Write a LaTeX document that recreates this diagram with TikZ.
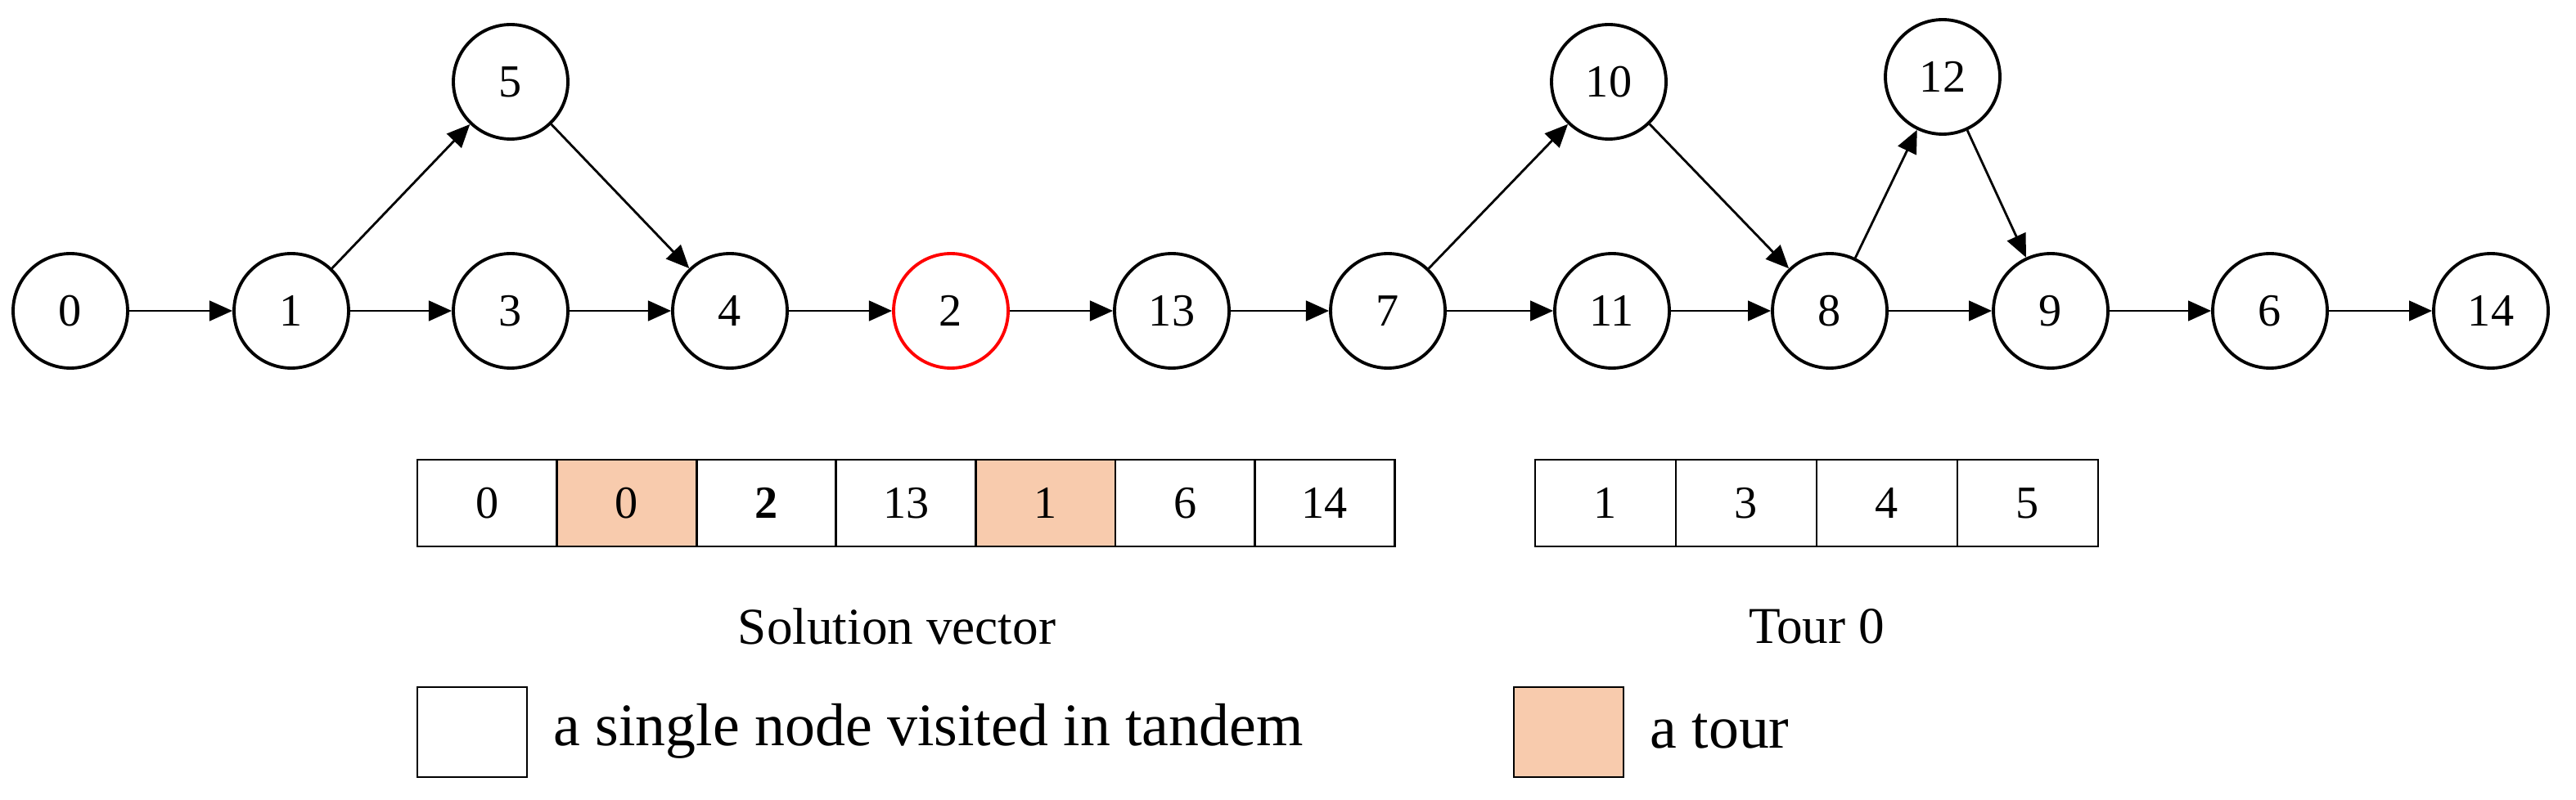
\documentclass[tikz,border=0pt]{standalone}
\usepackage{fontspec}
\setmainfont{Liberation Serif}
\usetikzlibrary{arrows.meta}
\definecolor{tourc}{HTML}{F8CBAD}
\begin{document}
\begin{tikzpicture}[x=0.02cm,y=-0.02cm,
  v/.style={circle,draw,line width=1.1pt,minimum size=1.4cm,inner sep=0pt,font=\fontsize{16}{18}\selectfont},
  e/.style={-{Triangle[length=8pt,width=7pt]},line width=0.8pt},
  cf/.style={font=\fontsize{16}{18}\selectfont},
  lbl/.style={font=\fontsize{18}{21}\selectfont},
  leg/.style={font=\fontsize{21}{25}\selectfont,anchor=west}]
\useasboundingbox (0,0) rectangle (1574,489);
\node[v] (n0) at (43,190) {0};
\node[v] (n1) at (178,190) {1};
\node[v] (n3) at (312,190) {3};
\node[v] (n4) at (446,190) {4};
\node[v,draw=red] (n2) at (581,190) {2};
\node[v] (n13) at (716,190) {13};
\node[v] (n7) at (848,190) {7};
\node[v] (n11) at (985,190) {11};
\node[v] (n8) at (1118,190) {8};
\node[v] (n9) at (1253,190) {9};
\node[v] (n6) at (1387,190) {6};
\node[v] (n14) at (1522,190) {14};
\node[v] (n5) at (312,50) {5};
\node[v] (n10) at (983,50) {10};
\node[v] (n12) at (1187,47) {12};
\foreach \a/\b in {n0/n1,n1/n3,n1/n5,n5/n4,n3/n4,n4/n2,n2/n13,n13/n7,n7/n10,n7/n11,n10/n8,n11/n8,n8/n12,n12/n9,n8/n9,n9/n6,n6/n14}
  \draw[e] (\a) -- (\b);
% solution vector
\foreach \i/\t/\f in {0/0/white,1/0/tourc,2/\textbf{2}/white,3/13/white,4/1/tourc,5/6/white,6/14/white}{
  \path[draw,fill=\f,line width=0.8pt] ({255+\i*85.3},281) rectangle ({255+(\i+1)*85.3},334);
  \node[cf] (s\i) at ({255+(\i+0.5)*85.3},307.5) {\t};
}
\foreach \i/\t in {0/1,1/3,2/4,3/5}{
  \draw[line width=0.8pt] ({938+\i*86},281) rectangle ({938+(\i+1)*86},334);
  \node[cf] (t\i) at ({938+(\i+0.5)*86},307.5) {\t};
}
\node[lbl] (sv) at (548,383) {Solution vector};
\node[lbl] (t0) at (1110,383) {Tour 0};
\draw[line width=0.8pt] (255,420) rectangle (322,475);
\node[leg] (l1) at (332,447) {a single node visited in tandem};
\draw[line width=0.8pt,fill=tourc] (925,420) rectangle (992,475);
\node[leg] (l2) at (1002,447) {a tour};
\end{tikzpicture}
\end{document}
